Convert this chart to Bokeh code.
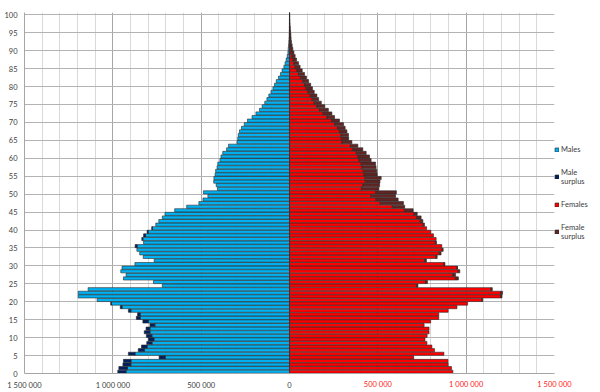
import numpy as np
from bokeh.plotting import figure
from bokeh.models import ColumnDataSource, FixedTicker, Legend, LegendItem, LinearAxis
from bokeh.core.properties import value
from bokeh.embed import file_html
from bokeh.resources import INLINE

# ---------------- data ----------------
ages = list(range(0, 101))

males = [972000, 966000, 943000, 940000, 738000, 912000, 856000, 838000, 808000, 799000,
         810000, 822000, 812000, 790000, 830000, 867000, 860000, 912000, 958000, 1012000,
         1089000, 1196000, 1196000, 1140000, 720000, 770000, 940000, 925000, 955000, 948000,
         875000, 766000, 828000, 848000, 864000, 874000, 826000, 836000, 826000, 806000,
         780000, 757000, 740000, 720000, 705000, 650000, 582000, 513000, 490000, 462000,
         487000, 408000, 415000, 429000, 428000, 421000, 418000, 410000, 406000, 394000,
         388000, 378000, 356000, 345000, 297000, 293000, 290000, 283000, 272000, 256000,
         238000, 212000, 190000, 170000, 155000, 140000, 128000, 117000, 105000, 94000,
         85000, 75000, 62000, 51000, 42000, 32000, 25000, 19000, 13000, 9000,
         7500, 5500, 4000, 3000, 2000, 1500, 1000, 700, 500, 300,
         200]

females = [925000, 917000, 898000, 897000, 703000, 874000, 821000, 806000, 778000, 767000,
           779000, 790000, 790000, 762000, 799000, 845000, 845000, 898000, 948000, 1008000,
           1094000, 1203000, 1206000, 1148000, 727000, 781000, 956000, 940000, 964000, 951000,
           880000, 775000, 836000, 858000, 870000, 862000, 832000, 830000, 815000, 800000,
           776000, 764000, 755000, 745000, 723000, 700000, 652000, 645000, 615000, 600000,
           605000, 506000, 510000, 512000, 519000, 496000, 494000, 490000, 487000, 462000,
           453000, 434000, 415000, 387000, 353000, 335000, 334000, 325000, 315000, 306000,
           283000, 255000, 240000, 220000, 200000, 180000, 165000, 155000, 140000, 130000,
           120000, 108000, 96000, 85000, 72000, 60000, 51000, 40000, 32000, 25000,
           19000, 15000, 11000, 9000, 7500, 6000, 4500, 3000, 2000, 1500,
           1000]

series_names = ["Males", "Male\nsurplus", "Females", "Female\nsurplus"]
series_colors = ["#00B0F0", "#002060", "#FF0000", "#632523"]

x_ticks_left = [-1500000, -1000000, -500000, 0]
x_labels_left = ["1 500 000", "1 000 000", "500 000", "0"]
x_ticks_right = [500000, 1000000, 1500000]
x_labels_right = ["500 000", "1 000 000", "1 500 000"]
x_major = x_ticks_left + x_ticks_right
x_minor = list(range(-1500000, 1500001, 100000))
y_ticks = list(range(0, 101, 5))

# ---------------- derived ----------------
A = np.array(ages, dtype=float)
M = np.array(males, dtype=float)
F = np.array(females, dtype=float)
common = np.minimum(M, F)
yc = A + 0.5
mm = M > F
ff = F > M

src_blue = ColumnDataSource(dict(y=yc, left=-common, right=np.zeros_like(common)))
src_navy = ColumnDataSource(dict(y=yc[mm], left=-M[mm], right=-common[mm]))
src_red = ColumnDataSource(dict(y=yc, left=np.zeros_like(common), right=common))
src_brown = ColumnDataSource(dict(y=yc[ff], left=common[ff], right=F[ff]))

FONT = "Lato"
FS = "7.5px"

p = figure(width=600, height=392, frame_width=530, frame_height=361,
           x_range=(-1500000, 1500000), y_range=(0, 100.65),
           output_backend="svg", toolbar_location=None,
           min_border_left=24, min_border_right=46, min_border_top=12, min_border_bottom=19)
p.background_fill_color = "white"
p.border_fill_color = "white"
p.outline_line_color = None

# grids
p.xgrid.ticker = FixedTicker(ticks=x_major, minor_ticks=x_minor)
p.xgrid.grid_line_color = "#a6a6a6"
p.xgrid.minor_grid_line_color = "#d9d9d9"
p.ygrid.ticker = FixedTicker(ticks=y_ticks)
p.ygrid.grid_line_color = "#b3b3b3"


def style_axis(ax, color, standoff=7):
    ax.major_tick_line_color = None
    ax.minor_tick_line_color = None
    ax.major_tick_out = 0
    ax.major_tick_in = 0
    ax.major_label_text_font = FONT
    ax.major_label_text_font_size = FS
    ax.major_label_text_color = color
    ax.major_label_standoff = standoff


# axes
xax = p.xaxis[0]
xax.ticker = FixedTicker(ticks=x_ticks_left)
xax.major_label_overrides = {t: l for t, l in zip(x_ticks_left, x_labels_left)}
xax.axis_line_color = "#a6a6a6"
style_axis(xax, "#404040")

yax = p.yaxis[0]
yax.ticker = FixedTicker(ticks=y_ticks)
yax.axis_line_color = "#a6a6a6"
style_axis(yax, "#404040")

# second bottom axis carrying the red (female side) labels; it is stacked below the
# first one, so a negative standoff lifts its labels back onto the same row
xax_r = LinearAxis(ticker=FixedTicker(ticks=x_ticks_right),
                   major_label_overrides={t: l for t, l in zip(x_ticks_right, x_labels_right)},
                   axis_line_color=None)
style_axis(xax_r, "#ff2020", standoff=-13)
p.add_layout(xax_r, "below")

# bars
bar_h = 0.88
kw = dict(height=bar_h, line_color="#262626", line_width=0.6)
r_blue = p.hbar(y="y", left="left", right="right", source=src_blue, fill_color=series_colors[0], **kw)
r_navy = p.hbar(y="y", left="left", right="right", source=src_navy, fill_color=series_colors[1], **kw)
r_red = p.hbar(y="y", left="left", right="right", source=src_red, fill_color=series_colors[2], **kw)
r_brown = p.hbar(y="y", left="left", right="right", source=src_brown, fill_color=series_colors[3], **kw)
renderers = [r_blue, r_navy, r_red, r_brown]

legend = Legend(items=[LegendItem(label=value(n), renderers=[r]) for n, r in zip(series_names, renderers)],
                location="center_left", orientation="vertical",
                glyph_width=5, glyph_height=5, label_standoff=2, spacing=14,
                padding=6, margin=0, border_line_color=None, background_fill_alpha=0,
                label_text_font=FONT, label_text_font_size=FS, label_text_color="#404040",
                label_height=9)
p.add_layout(legend, "right")

open("out.html", "w").write(file_html(p, INLINE))
